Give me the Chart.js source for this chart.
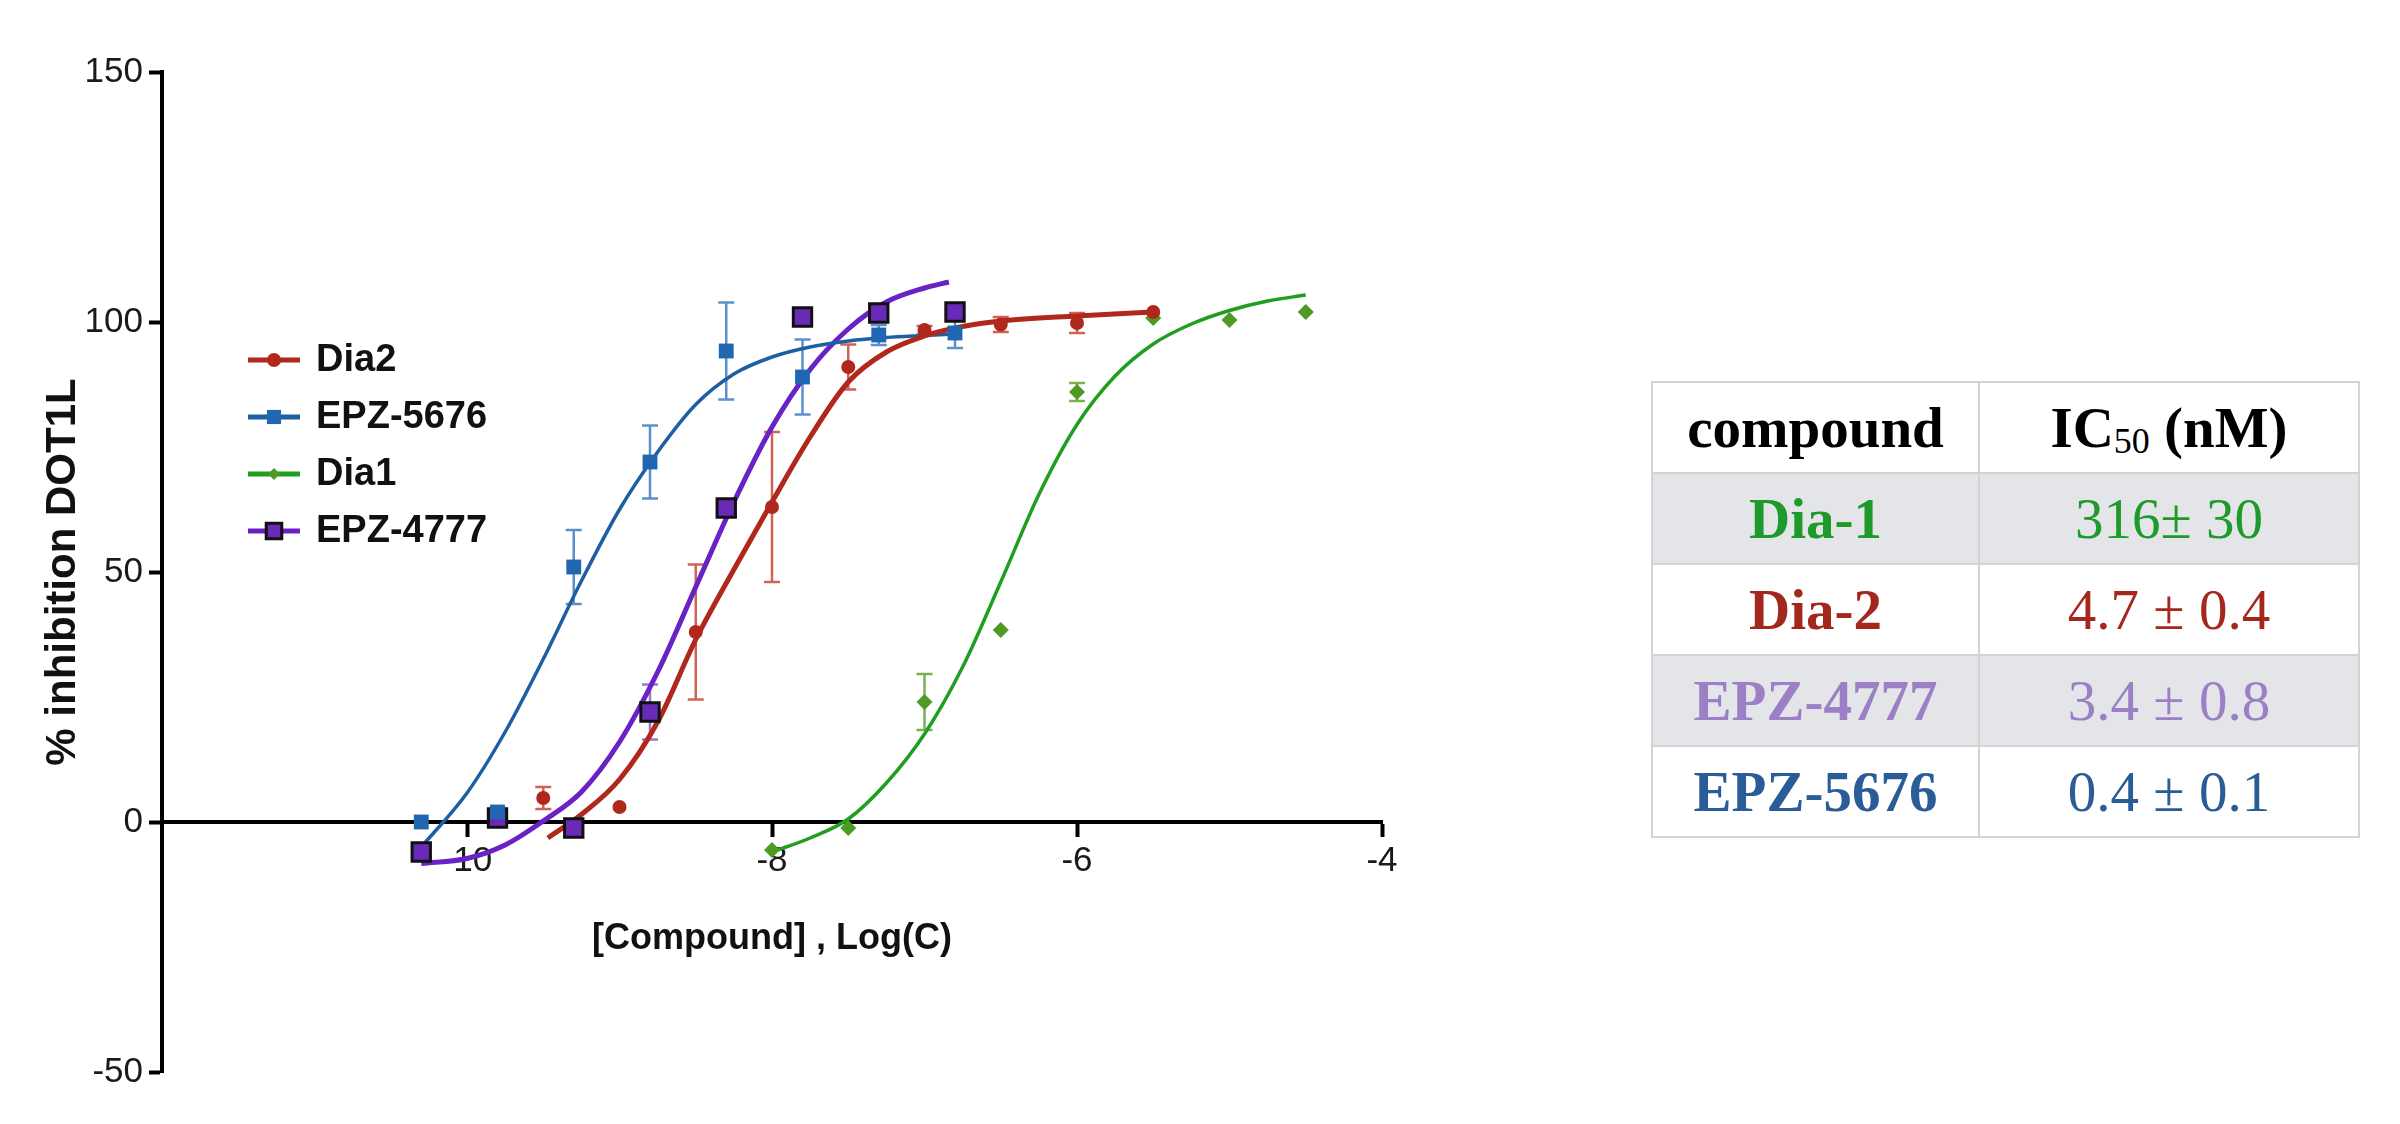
<!DOCTYPE html>
<html>
<head>
<meta charset="utf-8">
<title>DOT1L inhibition</title>
<script src="https://cdn.jsdelivr.net/npm/chart.js@4.4.1/dist/chart.umd.min.js"></script>
<style>
  html, body { margin: 0; padding: 0; background: #fff; }
  body { width: 2400px; height: 1124px; position: relative; overflow: hidden; }
  .chart-container { position: absolute; left: 0; top: 0; width: 1500px; height: 1124px; }
  table.ic50 {
    position: absolute; left: 1651px; top: 381px; width: 707px;
    border-collapse: collapse; table-layout: fixed;
    font-family: 'Liberation Serif', 'Times New Roman', serif;
    font-size: 57px; line-height: 1;
  }
  table.ic50 td, table.ic50 th {
    border: 2px solid #d3d3d3; height: 89px; padding: 0; text-align: center;
  }
  table.ic50 th { font-weight: bold; color: #000; }
  table.ic50 .name { font-weight: bold; }
  table.ic50 tr.shade td { background: #e4e5e9; }
  table.ic50 sub { font-size: 36px; font-weight: normal; vertical-align: -6px; line-height: 0; }
</style>
</head>
<body>
<div class="chart-container">
  <canvas id="chartCanvas"></canvas>
</div>
<table class="ic50" id="icTable">
  <colgroup><col style="width:327px"><col style="width:380px"></colgroup>
  <thead><tr><th>compound</th><th>IC<sub>50</sub> (nM)</th></tr></thead>
  <tbody></tbody>
</table>
<script>
// axis
const xTicks = [-10, -8, -6, -4];
const yTicks = [-50, 0, 50, 100, 150];
const xTitle = '[Compound] , Log(C)';
const yTitle = '% inhibition DOT1L';

// Dia2
const dia2X = [-9.5, -9.0, -8.5, -8.0, -7.5, -7.0, -6.5, -6.0, -5.5];
const dia2Y = [4.8, 3, 38, 63, 91, 98.4, 99.5, 99.8, 102];
const dia2Err = [2.2, 0, 13.5, 15, 4.5, 0.8, 1.5, 2, 0];
const dia2FitX = [-9.47, -9.25, -9.0, -8.75, -8.5, -8.25, -8.0, -7.75, -7.5, -7.25, -7.0, -6.75, -6.5, -6.0, -5.5];
const dia2FitY = [-3.2, 1.5, 8.5, 20, 36.5, 50.5, 64, 77, 88, 94, 97.2, 99.1, 100.2, 101.2, 102];

// EPZ-5676
const epz5676X = [-10.3, -9.8, -9.3, -8.8, -8.3, -7.8, -7.3, -6.8];
const epz5676Y = [0, 2, 51, 72, 94.2, 89, 97.4, 97.8];
const epz5676Err = [0, 0.8, 7.4, 7.3, 9.7, 7.5, 2, 3];
const epz5676FitX = [-10.3, -10.0, -9.75, -9.5, -9.25, -9.0, -8.75, -8.5, -8.25, -8.0, -7.75, -7.5, -7.25, -7.0, -6.8];
const epz5676FitY = [-5, 5.8, 18, 32.6, 48.2, 62.5, 74, 83.5, 89.6, 93, 95, 96.2, 96.9, 97.3, 97.6];

// Dia1
const dia1X = [-8.0, -7.5, -7.0, -6.5, -6.0, -5.5, -5.0, -4.5];
const dia1Y = [-5.6, -1.2, 24, 38.4, 86, 100.8, 100.4, 102];
const dia1Err = [0, 0, 5.6, 0, 1.8, 0, 0, 0];
const dia1FitX = [-8.0, -7.75, -7.5, -7.25, -7.0, -6.75, -6.5, -6.25, -6.0, -5.75, -5.5, -5.25, -5.0, -4.75, -4.5];
const dia1FitY = [-6, -3.2, 0.6, 7.8, 17.6, 31, 48, 65.5, 79.5, 89.2, 95.6, 99.6, 102.3, 104.2, 105.4];

// EPZ-4777
const epz4777X = [-10.3, -9.8, -9.3, -8.8, -8.3, -7.8, -7.3, -6.8];
const epz4777Y = [-6, 0.8, -1.2, 22, 62.8, 101, 101.8, 102];
const epz4777Err = [0, 0, 0, 5.5, 0, 0, 0, 0];
const epz4777FitX = [-10.3, -10.0, -9.75, -9.5, -9.25, -9.0, -8.75, -8.5, -8.25, -8.0, -7.75, -7.5, -7.25, -7.0, -6.84];
const epz4777FitY = [-8.3, -7.3, -4.6, 0.2, 6, 16, 30, 47, 64, 79, 90.5, 98.6, 104, 106.8, 108];

// IC50 table
const tableCompounds = ['Dia-1', 'Dia-2', 'EPZ-4777', 'EPZ-5676'];
const tableIC50 = ['316\u00b1 30', '4.7 \u00b1 0.4', '3.4 \u00b1 0.8', '0.4 \u00b1 0.1'];
const tableColors = ['#1d9a2b', '#a3271d', '#9b80c6', '#2a5c97'];

const legendOrder = ['Dia2', 'EPZ-5676', 'Dia1', 'EPZ-4777'];

const toPoints = (xs, ys) => xs.map((x, i) => ({ x, y: ys[i] }));

const series = [
  { label: 'Dia2', x: dia2X, y: dia2Y, err: dia2Err, fitX: dia2FitX, fitY: dia2FitY,
    line: '#b0271c', lineWidth: 5, point: '#b0271c', border: '#b0271c', errColor: '#cf6358',
    style: 'circle', radius: 7, legendRadius: 7, borderWidth: 0 },
  { label: 'EPZ-5676', x: epz5676X, y: epz5676Y, err: epz5676Err, fitX: epz5676FitX, fitY: epz5676FitY,
    line: '#1e5fa4', lineWidth: 3.5, point: '#2166b0', border: '#2166b0', errColor: '#5b91cb',
    style: 'rect', radius: 10.5, legendRadius: 10, borderWidth: 0 },
  { label: 'Dia1', x: dia1X, y: dia1Y, err: dia1Err, fitX: dia1FitX, fitY: dia1FitY,
    line: '#1f9e1f', lineWidth: 3.5, point: '#4f9a22', border: '#4f9a22', errColor: '#78b150',
    style: 'rectRot', radius: 8, legendRadius: 6, borderWidth: 0 },
  { label: 'EPZ-4777', x: epz4777X, y: epz4777Y, err: epz4777Err, fitX: epz4777FitX, fitY: epz4777FitY,
    line: '#6a22c4', lineWidth: 5, point: '#6a2ab8', border: '#111111', errColor: '#9877d6',
    style: 'rect', radius: 13, legendRadius: 11, borderWidth: 3 }
];

const datasets = [];
series.forEach(s => {
  datasets.push({
    label: s.label + ' fit',
    data: toPoints(s.fitX, s.fitY),
    showLine: true,
    borderColor: s.line,
    borderWidth: s.lineWidth,
    pointRadius: 0,
    cubicInterpolationMode: 'monotone',
    fill: false,
    order: 2,
    clip: false
  });
  datasets.push({
    label: s.label,
    data: toPoints(s.x, s.y),
    errors: s.err,
    errorColor: s.errColor,
    showLine: false,
    pointStyle: s.style,
    pointRadius: s.radius,
    pointBackgroundColor: s.point,
    pointBorderColor: s.border,
    pointBorderWidth: s.borderWidth,
    order: 1,
    clip: false
  });
});

const errorBarPlugin = {
  id: 'errorBars',
  beforeDatasetsDraw(chart) {
    const { ctx, scales: { x, y } } = chart;
    chart.data.datasets.forEach(ds => {
      if (!ds.errors) return;
      ctx.save();
      ctx.strokeStyle = ds.errorColor;
      ctx.lineWidth = 2.5;
      ds.data.forEach((p, i) => {
        const e = ds.errors[i];
        if (!e) return;
        const px = x.getPixelForValue(p.x);
        const top = y.getPixelForValue(p.y + e);
        const bot = y.getPixelForValue(p.y - e);
        ctx.beginPath();
        ctx.moveTo(px, top); ctx.lineTo(px, bot);
        ctx.moveTo(px - 8, top); ctx.lineTo(px + 8, top);
        ctx.moveTo(px - 8, bot); ctx.lineTo(px + 8, bot);
        ctx.stroke();
      });
      ctx.restore();
    });
  }
};

function drawMarker(ctx, style, r, x, y) {
  ctx.beginPath();
  if (style === 'circle') {
    ctx.arc(x, y, r, 0, Math.PI * 2);
  } else if (style === 'rect') {
    const h = r * Math.SQRT1_2;
    ctx.rect(x - h, y - h, 2 * h, 2 * h);
  } else {
    ctx.moveTo(x, y - r); ctx.lineTo(x + r, y); ctx.lineTo(x, y + r); ctx.lineTo(x - r, y);
    ctx.closePath();
  }
}

// legend drawn inside the plot, like the original
const legendPlugin = {
  id: 'insetLegend',
  afterDatasetsDraw(chart) {
    const ctx = chart.ctx;
    ctx.save();
    legendOrder.forEach((name, i) => {
      const s = series.find(d => d.label === name);
      const y = 360 + i * 57;
      ctx.strokeStyle = s.line;
      ctx.lineWidth = 5;
      ctx.beginPath();
      ctx.moveTo(248, y); ctx.lineTo(300, y);
      ctx.stroke();
      drawMarker(ctx, s.style, s.legendRadius, 274, y);
      ctx.fillStyle = s.point;
      ctx.fill();
      if (s.borderWidth) {
        ctx.lineWidth = s.borderWidth;
        ctx.strokeStyle = s.border;
        ctx.stroke();
      }
      ctx.fillStyle = '#111';
      ctx.font = 'bold 38px "Liberation Sans", Arial, sans-serif';
      ctx.textBaseline = 'middle';
      ctx.textAlign = 'left';
      ctx.fillText(name, 316, y + 1);
    });
    ctx.restore();
  }
};

const tickFont = { family: "'Liberation Sans', Arial, sans-serif", size: 35 };

new Chart(document.getElementById('chartCanvas').getContext('2d'), {
  type: 'scatter',
  data: { datasets },
  options: {
    responsive: true,
    maintainAspectRatio: false,
    animation: false,
    layout: { padding: { left: 0, top: 72, right: 118, bottom: 52 } },
    plugins: {
      legend: { display: false },
      tooltip: { enabled: false }
    },
    scales: {
      x: {
        type: 'linear',
        min: -12,
        max: -4,
        position: { y: 0 },
        afterBuildTicks: s => { s.ticks = xTicks.map(v => ({ value: v })); },
        grid: { drawOnChartArea: false, drawTicks: true, tickLength: 13, tickWidth: 4, tickColor: '#000' },
        border: { display: true, color: '#000', width: 4 },
        ticks: { font: tickFont, color: '#1a1a1a', padding: 5, maxRotation: 0, autoSkip: false },
        title: {
          display: true, text: xTitle, color: '#111',
          font: { family: "'Liberation Sans', Arial, sans-serif", size: 36, weight: 'bold' },
          padding: { top: 30, bottom: 0 }
        }
      },
      y: {
        type: 'linear',
        min: -50,
        max: 150,
        position: 'left',
        afterBuildTicks: s => { s.ticks = yTicks.map(v => ({ value: v })); },
        afterFit: s => { s.width = 162; },
        grid: { drawOnChartArea: false, drawTicks: true, tickLength: 13, tickWidth: 4, tickColor: '#000' },
        border: { display: true, color: '#000', width: 4 },
        ticks: { font: tickFont, color: '#1a1a1a', padding: 6 },
        title: {
          display: true, text: yTitle, color: '#111',
          font: { family: "'Liberation Sans', Arial, sans-serif", size: 42, weight: 'bold' },
          padding: { top: 38, bottom: 0 }
        }
      }
    }
  },
  plugins: [errorBarPlugin, legendPlugin]
});

// table rows
const tbody = document.querySelector('#icTable tbody');
tableCompounds.forEach((name, i) => {
  const tr = document.createElement('tr');
  if (i % 2 === 0) tr.className = 'shade';
  const a = document.createElement('td');
  a.className = 'name';
  a.textContent = name;
  a.style.color = tableColors[i];
  const b = document.createElement('td');
  b.textContent = tableIC50[i];
  b.style.color = tableColors[i];
  tr.appendChild(a);
  tr.appendChild(b);
  tbody.appendChild(tr);
});
</script>
</body>
</html>
